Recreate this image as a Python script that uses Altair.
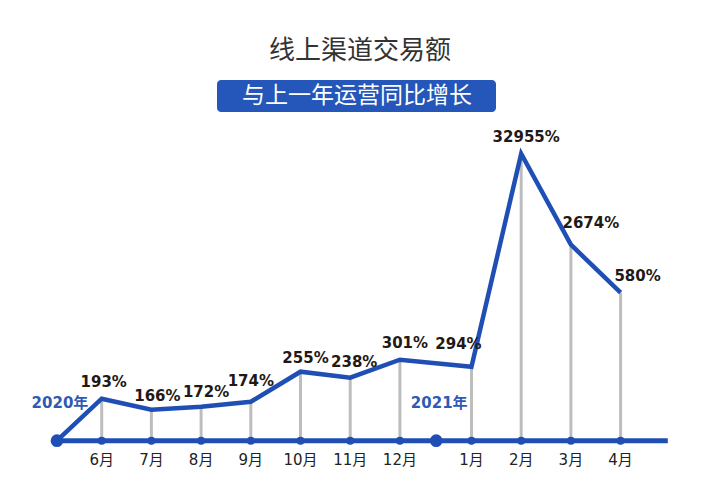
import altair as alt
import pandas as pd

# ---- data ----
months = ["6月", "7月", "8月", "9月", "10月", "11月", "12月", "1月", "2月", "3月", "4月"]
growth = [193, 166, 172, 174, 255, 238, 301, 294, 32955, 2674, 580]
# drawn height of each point above the axis (the infographic is not to scale)
level = [42, 31, 34, 39, 69, 63, 81, 74, 287, 196, 148]
# slot of each month along the time axis (a gap separates 2020 and 2021)
slot = [1, 2, 3, 4, 5, 6, 7, 8.44, 9.44, 10.44, 11.44]
year_labels = ["2020年", "2021年"]
year_slot = [0.1, 7.73]
axis_end = 12.39

BLUE = "#1f4fb5"
DARK = "#231815"
NUM_FONT = "'DejaVu Sans', 'Noto Sans CJK SC'"
CJK_FONT = "'Noto Sans CJK SC'"

df = pd.DataFrame({"month": months, "growth": growth, "level": level, "slot": slot})
df["label"] = [f"{v}%" for v in growth]
line_df = pd.concat(
    [pd.DataFrame({"slot": [year_slot[0]], "level": [0]}), df[["slot", "level"]]],
    ignore_index=True,
)
year_df = pd.DataFrame({"year": year_labels, "slot": year_slot})
axis_df = pd.DataFrame({"slot": [year_slot[0]], "slot_end": [axis_end]})

xs = alt.Scale(domain=[-1.046, 13.44], nice=False, zero=False)
ys = alt.Scale(domain=[-47.3, 440.7], nice=False, zero=False)
X = alt.X("slot:Q", scale=xs, axis=None)
Y = alt.Y("level:Q", scale=ys, axis=None)
Y0 = alt.Y("base:Q", scale=ys, axis=None)

rules = alt.Chart(df).transform_calculate(base="0").mark_rule(
    color="#bdbdbd", strokeWidth=3
).encode(x=X, y=Y, y2="base:Q")

baseline = alt.Chart(axis_df).transform_calculate(base="0").mark_rule(
    color=BLUE, strokeWidth=5
).encode(x=X, x2="slot_end:Q", y=Y0)

line = alt.Chart(line_df).mark_line(color=BLUE, strokeWidth=4.5).encode(
    x=X, y=Y, order="slot:Q"
)
small_dots = alt.Chart(df).transform_calculate(base="0").mark_point(
    filled=True, color=BLUE, size=64, opacity=1
).encode(x=X, y=Y0)
big_dots = alt.Chart(year_df).transform_calculate(base="0").mark_point(
    filled=True, color=BLUE, size=160, opacity=1
).encode(x=X, y=Y0)
month_text = alt.Chart(df).transform_calculate(base="-19").mark_text(
    font=NUM_FONT, fontSize=15, color="#222222", baseline="middle"
).encode(x=X, y=Y0, text="month:N")
year_text = alt.Chart(year_df).transform_calculate(base="38").mark_text(
    font=NUM_FONT, fontSize=15, fontWeight="bold", color="#2e5ab5", baseline="middle", dx=3
).encode(x=X, y=Y0, text="year:N")

nudge = {
    "6月": (2, -17), "7月": (6, -14), "8月": (5, -15), "9月": (0, -21),
    "10月": (5, -14), "11月": (4, -16), "12月": (5, -17), "1月": (-13, -23),
    "2月": (5, -17), "3月": (20, -22), "4月": (17, -17),
}
pct_layers = []
for m in months:
    dx, dy = nudge[m]
    pct_layers.append(
        alt.Chart(df)
        .transform_filter(alt.datum.month == m)
        .mark_text(font=NUM_FONT, fontSize=15, fontWeight="bold", color=DARK,
                   baseline="middle", dx=dx, dy=dy)
        .encode(x=X, y=Y, text="label:N")
    )

title = alt.Chart(pd.DataFrame({"t": ["线上渠道交易额"]})).mark_text(
    font=CJK_FONT, fontSize=26, color="#333333", baseline="middle"
).encode(x=alt.value(360), y=alt.value(51), text="t:N")
box = alt.Chart(pd.DataFrame({"t": [1]})).mark_rect(color="#2457b9", cornerRadius=4).encode(
    x=alt.value(217), x2=alt.value(496), y=alt.value(80), y2=alt.value(112)
)
sub = alt.Chart(pd.DataFrame({"t": ["与上一年运营同比增长"]})).mark_text(
    font=CJK_FONT, fontSize=23, color="white", baseline="middle"
).encode(x=alt.value(357), y=alt.value(96), text="t:N")

chart = alt.layer(
    rules, baseline, line, small_dots, big_dots, month_text, year_text, *pct_layers,
    title, box, sub
).properties(
    width=720, height=488, autosize=alt.AutoSizeParams(type="none"), padding=0,
    background="white"
).configure_view(stroke=None)

chart.save("out.html", embed_options={"renderer": "svg", "actions": False})
